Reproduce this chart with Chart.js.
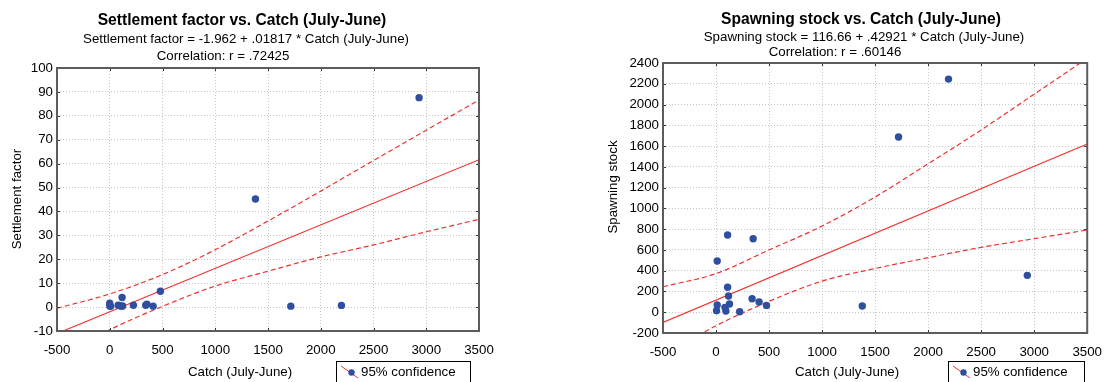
<!DOCTYPE html>
<html>
<head>
<meta charset="utf-8">
<script src="https://cdn.jsdelivr.net/npm/chart.js@4.4.1/dist/chart.umd.min.js"></script>
<style>
  html, body { margin: 0; padding: 0; background: #fff; }
  #wrap { position: relative; width: 1113px; height: 382px; overflow: hidden; }
  canvas { position: absolute; top: 0; }
</style>
</head>
<body>
<div id="wrap">
  <canvas id="c1" width="556" height="382" style="left:0"></canvas>
  <canvas id="c2" width="557" height="382" style="left:556px"></canvas>
</div>
<script>
// ---------- DATA ----------
// Left: Settlement factor vs. Catch
const catchL = [0, 0, 8, 80, 95, 110, 117, 122, 224, 341, 352, 411, 480, 1381, 1716, 2196, 2932];
const settlement = [0.5, 1.6, 0.3, 0.8, 0.6, 0.3, 4.0, 0.5, 0.8, 0.8, 1.2, 0.4, 6.6, 45.2, 0.4, 0.7, 87.6];
// Right: Spawning stock vs. Catch
const catchR = [5, 11, 11, 84, 93, 109, 109, 118, 127, 223, 340, 350, 406, 476, 1379, 1721, 2192, 2935];
const spawning = [15, 69, 493, 47, 12, 743, 240, 156, 79, 5, 130, 708, 98, 66, 60, 1687, 2245, 355];

// Regression lines (end points at the axis limits) and 95% confidence bands
const fitX = [-500, 3500];
const fitL = [-11.05, 61.63];
const fitR = [-97.9, 1618.9];
const bandX = [-500, 0, 500, 1000, 1500, 2000, 2500, 3000, 3500];
const upperL = [-0.5, 5.5, 13.6, 24.0, 36.0, 48.5, 61.3, 74.0, 86.6];
const lowerL = [-21.6, -9.5, 0.3, 8.8, 15.0, 21.0, 26.0, 31.5, 36.7];
const upperR = [245, 372, 600, 830, 1110, 1430, 1755, 2100, 2445];
const lowerR = [-420, -130, 105, 300, 421, 525, 625, 708, 792];

// Texts
const titlesL = ['Settlement factor vs. Catch (July-June)',
                 'Settlement factor = -1.962 + .01817 * Catch (July-June)',
                 'Correlation: r = .72425'];
const titlesR = ['Spawning stock vs. Catch (July-June)',
                 'Spawning stock = 116.66 + .42921 * Catch (July-June)',
                 'Correlation: r = .60146'];
const xTitle = 'Catch (July-June)';
const yTitleL = 'Settlement factor';
const yTitleR = 'Spawning stock';
const legendText = '95% confidence';
// Axis ranges / ticks
const xRange = [-500, 3500, 500];
const yRangeL = [-10, 100, 10];
const yRangeR = [-200, 2400, 200];

// ---------- drawing ----------
const FONT = '"Liberation Sans", Arial, Helvetica, sans-serif';
const FS = 13.3;
const RED = '#f2302e';
const BLUE = '#2e4f9f';

function pts(xs, ys) { return xs.map((x, i) => ({ x: x, y: ys[i] })); }

const deco = {
  id: 'deco',
  afterDraw(chart, args, o) {
    const ctx = chart.ctx, a = chart.chartArea;
    ctx.save();
    // inward tick marks
    ctx.strokeStyle = '#333'; ctx.lineWidth = 1;
    const xs = chart.scales.x, ys = chart.scales.y;
    ctx.beginPath();
    xs.ticks.forEach(t => {
      const px = Math.round(xs.getPixelForValue(t.value)) + 0.5;
      ctx.moveTo(px, a.bottom); ctx.lineTo(px, a.bottom - 3);
      ctx.moveTo(px, a.top); ctx.lineTo(px, a.top + 3);
    });
    ys.ticks.forEach(t => {
      const py = Math.round(ys.getPixelForValue(t.value)) + 0.5;
      ctx.moveTo(a.left, py); ctx.lineTo(a.left + 3, py);
      ctx.moveTo(a.right, py); ctx.lineTo(a.right - 3, py);
    });
    ctx.stroke();
    // frame
    ctx.strokeStyle = '#5c5c5c'; ctx.lineWidth = 2;
    ctx.strokeRect(a.left, a.top, a.right - a.left, a.bottom - a.top);

    // titles
    ctx.fillStyle = '#000';
    ctx.textBaseline = 'alphabetic';
    ctx.textAlign = 'center';
    ctx.font = 'bold 15.6px ' + FONT;
    ctx.fillText(o.titles[0], o.tX[0], o.tY[0]);
    ctx.font = FS + 'px ' + FONT;
    ctx.fillText(o.titles[1], o.tX[1], o.tY[1]);
    ctx.fillText(o.titles[2], o.tX[2], o.tY[2]);
    // x title
    ctx.fillText(xTitle, o.xtX, o.xtY);
    // y title
    ctx.save();
    ctx.translate(o.ytX, o.ytY);
    ctx.rotate(-Math.PI / 2);
    ctx.textBaseline = 'middle';
    ctx.fillText(o.yTitle, 0, 0);
    ctx.restore();
    // legend box
    ctx.strokeStyle = '#000'; ctx.lineWidth = 1;
    ctx.strokeRect(o.lgX + 0.5, o.lgY + 0.5, o.lgW, 40);
    ctx.strokeStyle = RED; ctx.lineWidth = 1;
    ctx.beginPath();
    ctx.moveTo(o.lgX + 5, o.lgY + 5); ctx.lineTo(o.lgX + 22, o.lgY + 17);
    ctx.stroke();
    ctx.fillStyle = BLUE;
    ctx.beginPath(); ctx.arc(o.lgX + 15.5, o.lgY + 11.5, 3.2, 0, Math.PI * 2); ctx.fill();
    ctx.fillStyle = '#000';
    ctx.textAlign = 'left';
    ctx.font = FS + 'px ' + FONT;
    ctx.fillText(legendText, o.lgX + 25, o.lgY + 15);
    ctx.restore();
  }
};

function makeChart(id, W, H, area, xsData, ysData, fit, up, lo, yr, decoOpts) {
  const band = { showLine: true, borderColor: RED, borderWidth: 1.2, borderDash: [5, 3],
                 pointRadius: 0, order: 2, cubicInterpolationMode: 'monotone' };
  const ds = [
    { data: pts(fitX, fit), showLine: true, borderColor: RED, borderWidth: 1.1, pointRadius: 0, order: 2 },
    Object.assign({ data: pts(bandX, up) }, band),
    Object.assign({ data: pts(bandX, lo) }, band),
    { data: pts(xsData, ysData), showLine: false, pointRadius: 3.7, pointBackgroundColor: BLUE,
      pointBorderColor: BLUE, pointBorderWidth: 0, order: 1 }
  ];
  return new Chart(document.getElementById(id), {
    type: 'scatter',
    data: { datasets: ds },
    options: {
      responsive: false,
      animation: false,
      events: [],
      layout: { padding: { left: 0, top: area.top, right: W - area.right, bottom: 0 } },
      plugins: { legend: { display: false }, title: { display: false }, tooltip: { enabled: false }, deco: decoOpts },
      scales: {
        x: {
          type: 'linear', min: xRange[0], max: xRange[1],
          ticks: { stepSize: xRange[2], color: '#000', font: { family: FONT, size: FS }, padding: 11, maxRotation: 0,
                   callback: v => String(v) },
          grid: { color: '#c6c6c6', lineWidth: 1, drawTicks: false },
          border: { display: false, dash: [1, 2] },
          afterFit: s => { s.height = H - area.bottom; }
        },
        y: {
          type: 'linear', min: yr[0], max: yr[1],
          ticks: { stepSize: yr[2], color: '#000', font: { family: FONT, size: FS }, padding: 4,
                   callback: v => String(v) },
          grid: { color: '#c6c6c6', lineWidth: 1, drawTicks: false },
          border: { display: false, dash: [1, 2] },
          afterFit: s => { s.width = area.left; }
        }
      }
    },
    plugins: [deco]
  });
}

makeChart('c1', 556, 382, { left: 57, right: 479, top: 68, bottom: 331 },
  catchL, settlement, fitL, upperL, lowerL, yRangeL,
  { titles: titlesL, tX: [242, 246, 223], tY: [25, 43, 60], xtX: 240, xtY: 376,
    ytX: 17, ytY: 199, yTitle: yTitleL, lgX: 336, lgY: 361, lgW: 134 });

makeChart('c2', 557, 382, { left: 107, right: 532, top: 63, bottom: 333 },
  catchR, spawning, fitR, upperR, lowerR, yRangeR,
  { titles: titlesR, tX: [305, 308, 279], tY: [24, 41, 56], xtX: 291, xtY: 376,
    ytX: 57, ytY: 187, yTitle: yTitleR, lgX: 392, lgY: 361, lgW: 136 });
</script>
</body>
</html>
